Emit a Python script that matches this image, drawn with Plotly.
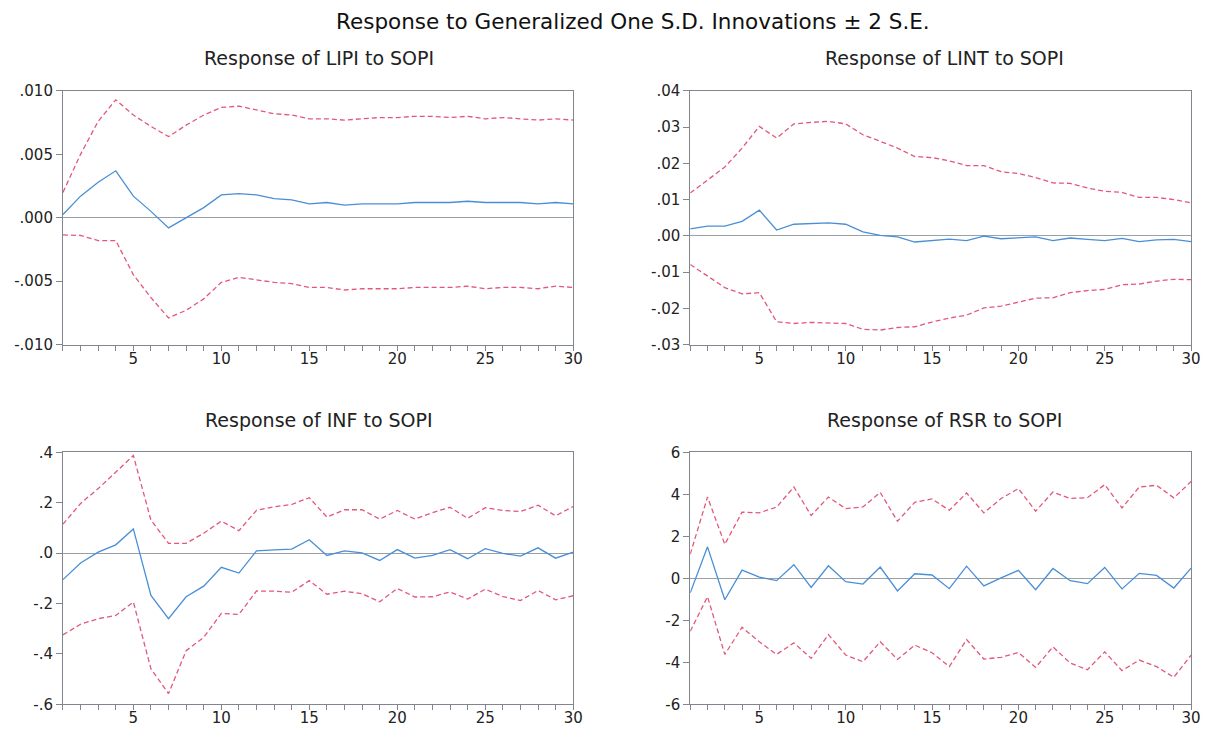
import plotly.graph_objects as go

periods = list(range(1, 31))

# Response of LIPI to SOPI
lipi_resp = [0.00026, 0.0017, 0.0028, 0.0037, 0.0017, 0.0005, -0.0008, 0.0000, 0.0008, 0.0018,
             0.0019, 0.0018, 0.0015, 0.0014, 0.0011, 0.0012, 0.0010, 0.0011, 0.0011, 0.0011,
             0.0012, 0.0012, 0.0012, 0.0013, 0.0012, 0.0012, 0.0012, 0.0011, 0.0012, 0.0011]
lipi_up = [0.0020, 0.0050, 0.0076, 0.0093, 0.0081, 0.0072, 0.0064, 0.0073, 0.0081, 0.0087,
           0.0088, 0.0085, 0.0082, 0.0081, 0.0078, 0.0078, 0.0077, 0.0078, 0.0079, 0.0079,
           0.0080, 0.0080, 0.0079, 0.0080, 0.0078, 0.0079, 0.0078, 0.0077, 0.0078, 0.0077]
lipi_lo = [-0.00136, -0.0014, -0.0018, -0.0018, -0.0045, -0.0063, -0.0079, -0.0073, -0.0064, -0.0051,
           -0.0047, -0.0049, -0.0051, -0.0052, -0.0055, -0.0055, -0.0057, -0.0056, -0.0056, -0.0056,
           -0.0055, -0.0055, -0.0055, -0.0054, -0.0056, -0.0055, -0.0055, -0.0056, -0.0054, -0.0055]

# Response of LINT to SOPI
lint_resp = [0.0019, 0.0027, 0.0027, 0.0040, 0.0071, 0.0016, 0.0032, 0.0035, 0.0036, 0.0032,
             0.0011, 0.0001, -0.0003, -0.0017, -0.0012, -0.0009, -0.0013, -0.0001, -0.0008, -0.0006,
             -0.0003, -0.0013, -0.0006, -0.0010, -0.0013, -0.0007, -0.0016, -0.0011, -0.0010, -0.0016]
lint_up = [0.0118, 0.0155, 0.0190, 0.0242, 0.0302, 0.0270, 0.0309, 0.0313, 0.0316, 0.0309,
           0.0279, 0.0261, 0.0242, 0.0219, 0.0216, 0.0207, 0.0194, 0.0194, 0.0177, 0.0172,
           0.0161, 0.0146, 0.0145, 0.0132, 0.0123, 0.0120, 0.0106, 0.0106, 0.0100, 0.0091]
lint_lo = [-0.0079, -0.0111, -0.0143, -0.0160, -0.0157, -0.0237, -0.0242, -0.0239, -0.0240, -0.0242,
           -0.0258, -0.0260, -0.0253, -0.0251, -0.0238, -0.0227, -0.0219, -0.0199, -0.0194, -0.0184,
           -0.0172, -0.0171, -0.0157, -0.0151, -0.0148, -0.0135, -0.0133, -0.0125, -0.0120, -0.0121]

# Response of INF to SOPI
inf_resp = [-0.105, -0.039, 0.004, 0.033, 0.096, -0.168, -0.260, -0.173, -0.131, -0.056,
            -0.079, 0.009, 0.013, 0.016, 0.053, -0.009, 0.009, 0.001, -0.029, 0.014,
            -0.020, -0.009, 0.014, -0.022, 0.018, -0.001, -0.012, 0.021, -0.020, 0.004]
inf_up = [0.115, 0.197, 0.256, 0.321, 0.387, 0.131, 0.039, 0.039, 0.079, 0.127,
          0.089, 0.170, 0.184, 0.193, 0.220, 0.143, 0.172, 0.172, 0.135, 0.169,
          0.135, 0.161, 0.182, 0.138, 0.180, 0.169, 0.165, 0.190, 0.148, 0.185]
inf_lo = [-0.324, -0.282, -0.260, -0.247, -0.194, -0.459, -0.557, -0.387, -0.334, -0.239,
          -0.243, -0.150, -0.151, -0.155, -0.109, -0.163, -0.151, -0.161, -0.193, -0.140,
          -0.174, -0.173, -0.154, -0.182, -0.143, -0.172, -0.188, -0.148, -0.185, -0.169]

# Response of RSR to SOPI
rsr_resp = [-0.69, 1.50, -1.02, 0.39, 0.06, -0.11, 0.65, -0.43, 0.60, -0.16,
            -0.27, 0.54, -0.60, 0.22, 0.16, -0.49, 0.58, -0.36, 0.02, 0.38,
            -0.54, 0.47, -0.11, -0.25, 0.52, -0.50, 0.24, 0.14, -0.46, 0.49]
rsr_up = [1.15, 3.87, 1.62, 3.15, 3.12, 3.39, 4.35, 2.99, 3.87, 3.32,
          3.40, 4.09, 2.72, 3.62, 3.78, 3.24, 4.06, 3.12, 3.80, 4.27,
          3.20, 4.11, 3.80, 3.84, 4.46, 3.35, 4.35, 4.43, 3.83, 4.61]
rsr_lo = [-2.52, -0.87, -3.62, -2.33, -3.02, -3.62, -3.07, -3.81, -2.68, -3.65,
          -3.97, -3.02, -3.86, -3.18, -3.54, -4.20, -2.91, -3.84, -3.76, -3.53,
          -4.24, -3.26, -4.03, -4.35, -3.50, -4.39, -3.89, -4.20, -4.71, -3.65]

panel_titles = ["Response of LIPI to SOPI", "Response of LINT to SOPI",
                "Response of INF to SOPI", "Response of RSR to SOPI"]
main_title = "Response to Generalized One S.D. Innovations \u00b1 2 S.E."

lipi_ticks = [-0.010, -0.005, 0.000, 0.005, 0.010]
lipi_labels = ["-.010", "-.005", ".000", ".005", ".010"]
lint_ticks = [-0.03, -0.02, -0.01, 0.00, 0.01, 0.02, 0.03, 0.04]
lint_labels = ["-.03", "-.02", "-.01", ".00", ".01", ".02", ".03", ".04"]
inf_ticks = [-0.6, -0.4, -0.2, 0.0, 0.2, 0.4]
inf_labels = ["-.6", "-.4", "-.2", ".0", ".2", ".4"]
rsr_ticks = [-6, -4, -2, 0, 2, 4, 6]
rsr_labels = ["-6", "-4", "-2", "0", "2", "4", "6"]

x_ticks = [5, 10, 15, 20, 25, 30]

panels = [
    (lipi_resp, lipi_up, lipi_lo, lipi_ticks, lipi_labels, [-0.010, 0.010]),
    (lint_resp, lint_up, lint_lo, lint_ticks, lint_labels, [-0.03, 0.04]),
    (inf_resp, inf_up, inf_lo, inf_ticks, inf_labels, [-0.6, 0.4]),
    (rsr_resp, rsr_up, rsr_lo, rsr_ticks, rsr_labels, [-6, 6]),
]

W, H = 1212, 730
# panel boxes in page pixels (left, right, top, bottom)
col_px = [(63.5, 578.0), (696.0, 1201.0)]
row_px = [(84.0, 344.0), (454.5, 713.0)]
xdoms = [[a / W, b / W] for a, b in col_px]
ydoms = [[1 - b / H, 1 - a / H] for a, b in row_px]
title_y_px = 12.5
sub_y_px = [50.5, 421.0]
sub_x_px = [322.0, 952.0]

BLUE = "#4a8fd6"
RED = "#e2587a"
AXIS = "#80858e"
FONT = "DejaVu Sans, Liberation Sans, Arial, sans-serif"

fig = go.Figure()
layout = dict(
    width=W, height=H,
    margin=dict(l=0, r=0, t=0, b=0, pad=0),
    paper_bgcolor="white", plot_bgcolor="white",
    showlegend=False,
    font=dict(family=FONT, color="#222", size=14),
)
annotations = [dict(text=main_title, x=638 / W, y=1 - title_y_px / H, xref="paper", yref="paper",
                    showarrow=False, font=dict(size=21.5, family=FONT, color="#111"),
                    xanchor="center", yanchor="middle")]

for i, (resp, up, lo, yt, yl, yr) in enumerate(panels):
    row, col = divmod(i, 2)
    n = i + 1
    xa = "x" if n == 1 else f"x{n}"
    ya = "y" if n == 1 else f"y{n}"
    for vals, color, dash in [(up, RED, "5px,3px"), (lo, RED, "5px,3px"), (resp, BLUE, "solid")]:
        fig.add_trace(go.Scatter(x=periods, y=vals, mode="lines", xaxis=xa, yaxis=ya,
                                 line=dict(color=color, width=1.3, dash=dash),
                                 hoverinfo="skip"))
    xkey = "xaxis" if n == 1 else f"xaxis{n}"
    ykey = "yaxis" if n == 1 else f"yaxis{n}"
    layout[xkey] = dict(domain=xdoms[col], anchor=ya, range=[1, 30],
                        tickvals=x_ticks, ticktext=[str(v) for v in x_ticks],
                        ticks="outside", ticklen=5, tickcolor=AXIS, tickwidth=1,
                        ticklabelstandoff=-5,
                        minor=dict(tickvals=periods, ticks="outside", ticklen=5,
                                   tickcolor=AXIS, tickwidth=1),
                        showline=True, linecolor=AXIS, linewidth=1, mirror=True,
                        showgrid=False, zeroline=False,
                        tickfont=dict(size=15, color="#222"))
    layout[ykey] = dict(domain=ydoms[row], anchor=xa, range=yr,
                        tickvals=yt, ticktext=yl,
                        ticks="outside", ticklen=6, tickcolor=AXIS, tickwidth=1,
                        showline=True, linecolor=AXIS, linewidth=1, mirror=True,
                        showgrid=False, zeroline=True, zerolinecolor="#9aa0a8",
                        zerolinewidth=1, tickfont=dict(size=15, color="#222"))
    annotations.append(dict(text=panel_titles[i], x=sub_x_px[col] / W, y=1 - sub_y_px[row] / H,
                            xref="paper", yref="paper",
                            showarrow=False, xanchor="center", yanchor="middle",
                            font=dict(size=19, family=FONT, color="#222")))

layout["annotations"] = annotations
fig.update_layout(**layout)

post = (
    "document.documentElement.style.margin='0';"
    "document.documentElement.style.overflow='hidden';"
    "document.body.style.margin='0';"
    "document.body.style.overflow='hidden';"
)
fig.write_html("out.html", config={"displayModeBar": False}, post_script=post)
